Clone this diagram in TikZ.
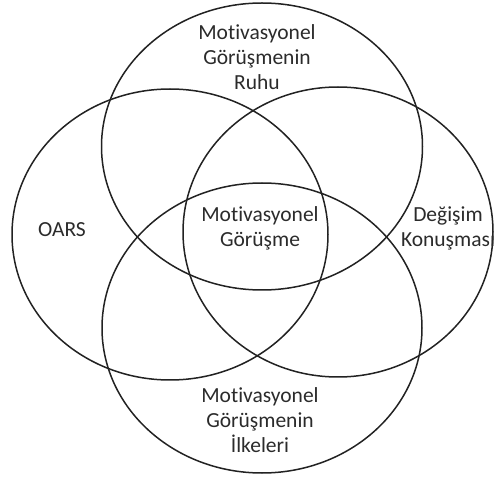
\documentclass[tikz,border=0pt]{standalone}
\usepackage{fontspec}
\setmainfont[Ligatures=NoCommon]{Carlito}
\definecolor{linec}{HTML}{222222}
\definecolor{textc}{HTML}{2B2B2B}
\begin{document}
\begin{tikzpicture}[x=1pt,y=-1pt,
  ring/.style={draw=linec,line width=1.5pt},
  lbl/.style={text=textc,align=center,inner sep=0pt,font=\fontsize{21.5}{25}\selectfont}]
\useasboundingbox (0,0) rectangle (496,481);
\draw[ring] (262,146.5) ellipse [x radius=160.5,y radius=143.5];
\draw[ring] (170,234.5) ellipse [x radius=158,y radius=145.5];
\draw[ring] (338,232) ellipse [x radius=155,y radius=145];
\draw[ring] (262,328) ellipse [x radius=160,y radius=145];
\node[lbl] (ruhu) at (257,57) {Motivasyonel\\Görüşmenin\\Ruhu};
\node[lbl] (oars) at (62,230) {OARS};
\node[lbl] (degisim) at (448,228) {Değişim\\Konuşması};
\node[lbl] (mg) at (260,228) {Motivasyonel\\Görüşme};
\node[lbl] (ilke) at (260,420) {Motivasyonel\\Görüşmenin\\İlkeleri};
\end{tikzpicture}
\end{document}
